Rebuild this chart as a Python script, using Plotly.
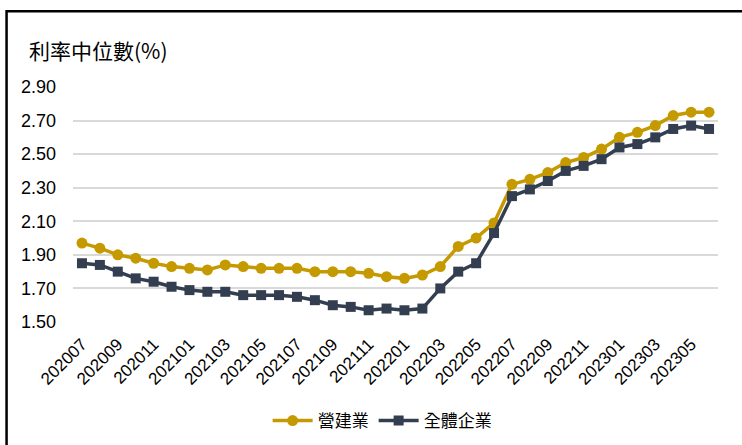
import plotly.graph_objects as go

months = [
    "202007", "202008", "202009", "202010", "202011", "202012",
    "202101", "202102", "202103", "202104", "202105", "202106",
    "202107", "202108", "202109", "202110", "202111", "202112",
    "202201", "202202", "202203", "202204", "202205", "202206",
    "202207", "202208", "202209", "202210", "202211", "202212",
    "202301", "202302", "202303", "202304", "202305", "202306",
]

construction = [
    1.97, 1.94, 1.90, 1.88, 1.85, 1.83,
    1.82, 1.81, 1.84, 1.83, 1.82, 1.82,
    1.82, 1.80, 1.80, 1.80, 1.79, 1.77,
    1.76, 1.78, 1.83, 1.95, 2.00, 2.09,
    2.32, 2.35, 2.39, 2.45, 2.48, 2.53,
    2.60, 2.63, 2.67, 2.73, 2.75, 2.75,
]

all_firms = [
    1.85, 1.84, 1.80, 1.76, 1.74, 1.71,
    1.69, 1.68, 1.68, 1.66, 1.66, 1.66,
    1.65, 1.63, 1.60, 1.59, 1.57, 1.58,
    1.57, 1.58, 1.70, 1.80, 1.85, 2.03,
    2.25, 2.29, 2.34, 2.40, 2.43, 2.47,
    2.54, 2.56, 2.60, 2.65, 2.67, 2.65,
]

y_ticks = [1.50, 1.70, 1.90, 2.10, 2.30, 2.50, 2.70, 2.90]
x_ticks = months[::2]

GOLD = "#C59A00"
NAVY = "#333F50"

fig = go.Figure()
fig.add_trace(go.Scatter(
    x=months, y=construction, name="營建業", mode="lines+markers",
    line=dict(color=GOLD, width=3.5),
    marker=dict(symbol="circle", size=11, color=GOLD),
    cliponaxis=False,
))
fig.add_trace(go.Scatter(
    x=months, y=all_firms, name="全體企業", mode="lines+markers",
    line=dict(color=NAVY, width=3.5),
    marker=dict(symbol="square", size=10, color=NAVY),
    cliponaxis=False,
))

fig.update_layout(
    width=742, height=445,
    margin=dict(l=73, r=24, t=87, b=123, autoexpand=False),
    paper_bgcolor="white", plot_bgcolor="white",
    font=dict(family="Liberation Sans, Arial, sans-serif", size=17, color="#000000"),
    showlegend=True,
    legend=dict(
        orientation="h", xref="container", yref="container",
        x=0.515, xanchor="center", y=0.054, yanchor="middle",
        font=dict(family="Noto Sans CJK TC, sans-serif", size=17, color="#000000"),
        itemwidth=40, tracegroupgap=0,
    ),
    annotations=[dict(
        text="利率中位數(%)", xref="paper", yref="paper",
        x=-0.072, y=1.157, xanchor="left", yanchor="middle", showarrow=False,
        font=dict(family="Noto Sans CJK TC, sans-serif", size=21, color="#000000"),
    )],
    shapes=[dict(
        type="rect", xref="paper", yref="paper",
        x0=-0.103, x1=1.2, y0=-0.6, y1=1.322,
        line=dict(color="#000000", width=2.5), layer="above",
    )],
)

fig.update_xaxes(
    type="category", categoryorder="array", categoryarray=months,
    tickmode="array", tickvals=x_ticks, ticktext=x_ticks,
    tickangle=-45, tickfont=dict(size=17), showgrid=False,
    showline=False, ticks="", range=[-0.5, len(months) - 0.5],
    ticklabelstandoff=8, automargin=False,
)
fig.update_yaxes(
    range=[1.50, 2.90], tickmode="array", tickvals=y_ticks,
    ticktext=[f"{v:.2f}" for v in y_ticks],
    showgrid=True, gridcolor="#D9D9D9", gridwidth=1.5,
    zeroline=False, showline=False, ticks="", ticklabelstandoff=16,
    tickfont=dict(size=18), automargin=False,
)

fig.write_html("out.html")
